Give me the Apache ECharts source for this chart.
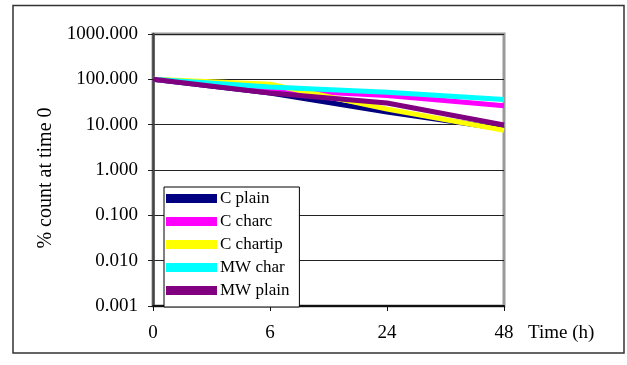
<!DOCTYPE html>
<html>
<head>
<meta charset="utf-8">
<script src="https://cdn.jsdelivr.net/npm/echarts@6/dist/echarts.min.js"></script>
<style>
  html, body { margin: 0; padding: 0; background: #fff; }
  #chart { width: 627px; height: 365px; }
</style>
</head>
<body>
<div id="chart"></div>
<script>
// Sampling times (hours)
const times = ['0', '6', '24', '48'];

// Percent of the time-0 count remaining
const cPlain   = [100, 50, 19, 8];
const cCharc   = [100, 60, 44, 26];
const cChartip = [100, 78, 22, 7.5];
const mwChar   = [100, 68, 52, 36];
const mwPlain  = [100, 50, 30, 9.8];

const seriesNames  = ['C plain', 'C charc', 'C chartip', 'MW char', 'MW plain'];
const seriesValues = [cPlain, cCharc, cChartip, mwChar, mwPlain];
const seriesColors = ['#000080', '#ff00ff', '#ffff00', '#00ffff', '#800080'];

const serif = 'Liberation Serif';

const chart = echarts.init(document.getElementById('chart'), null, { renderer: 'canvas' });

chart.setOption({
  animation: false,
  backgroundColor: '#fff',
  graphic: [{
    type: 'rect',
    shape: { x: 13, y: 5.5, width: 611, height: 347.5 },
    style: { fill: 'none', stroke: '#333', lineWidth: 1.5 },
    z: 0
  }],
  grid: {
    left: 153, right: 123, top: 34, bottom: 59,
    show: true,
    borderColor: '#999',
    borderWidth: 3,
    backgroundColor: '#fff'
  },
  legend: {
    orient: 'vertical',
    left: 164, top: 187,
    padding: [3, 10, 8, 2],
    itemGap: 6,
    itemWidth: 51,
    itemHeight: 9,
    icon: 'rect',
    backgroundColor: '#fff',
    borderColor: '#000',
    borderWidth: 1,
    borderRadius: 0,
    textStyle: { fontFamily: serif, fontSize: 17, lineHeight: 17, color: '#000', padding: [0, 0, 0, -2] },
    data: seriesNames
  },
  xAxis: {
    type: 'category',
    data: times,
    boundaryGap: false,
    name: 'Time (h)',
    nameLocation: 'end',
    nameGap: 24,
    nameTextStyle: { fontFamily: serif, fontSize: 19, color: '#000', verticalAlign: 'top', padding: [18, 0, 0, 0] },
    axisLine: { lineStyle: { color: '#111', width: 2 } },
    axisTick: { show: true, length: 5, alignWithLabel: true, lineStyle: { color: '#111' } },
    axisLabel: { fontFamily: serif, fontSize: 19, color: '#000', margin: 18 },
    splitLine: { show: false }
  },
  yAxis: {
    type: 'log',
    logBase: 10,
    min: 0.001,
    max: 1000,
    name: '% count at time 0',
    nameLocation: 'middle',
    nameGap: 92,
    nameRotate: 90,
    nameTextStyle: { fontFamily: serif, fontSize: 20, color: '#000', padding: [0, 16, 0, 0] },
    axisLine: { show: true, lineStyle: { color: '#444', width: 2.5 } },
    axisTick: { show: true, length: 5, lineStyle: { color: '#222' } },
    axisLabel: {
      fontFamily: serif, fontSize: 19, color: '#000', margin: 15,
      formatter: v => Number(v).toFixed(3)
    },
    splitLine: { show: true, lineStyle: { color: '#222', width: 1 } }
  },
  series: seriesNames.map((name, i) => ({
    name,
    type: 'line',
    data: seriesValues[i],
    symbol: 'none',
    color: seriesColors[i],
    lineStyle: { width: 5, color: seriesColors[i] },
    z: 2 + i
  }))
});
</script>
</body>
</html>
